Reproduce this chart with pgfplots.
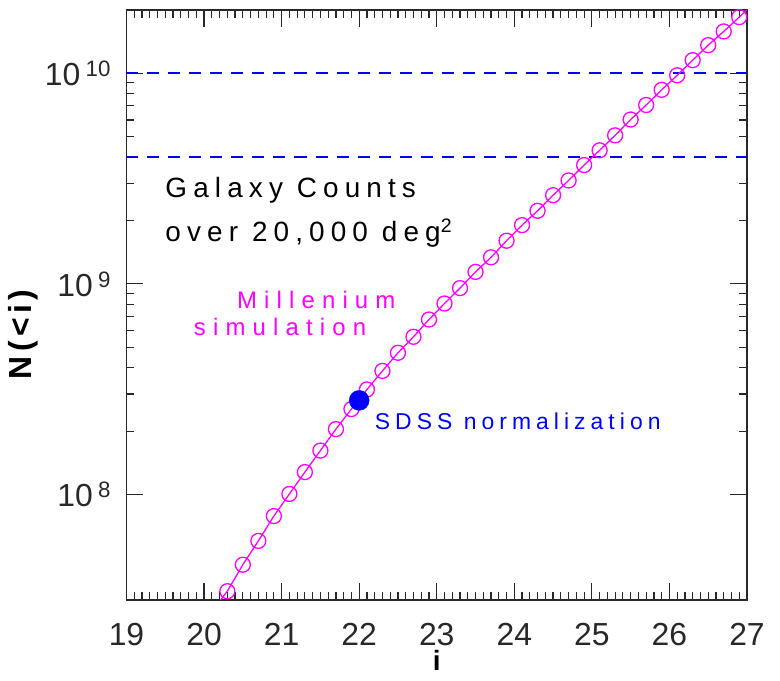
\documentclass[border=0pt]{standalone}
\usepackage{fontspec}
\setmainfont{Liberation Sans}
\newfontfamily\spaced{Liberation Sans}[LetterSpace=22]
\newfontfamily\widespaced{Liberation Sans}[LetterSpace=30]
\newfontfamily\boldspaced{Liberation Sans}[LetterSpace=14]
\usepackage{pgfplots}
\pgfplotsset{compat=1.18}
\definecolor{mag}{RGB}{255,0,255}
\definecolor{dblue}{RGB}{0,0,255}
\definecolor{axgray}{RGB}{40,40,40}
\pgfplotstableread{
i N
20.3 3.48e7
20.5 4.65e7
20.7 6.03e7
20.9 7.91e7
21.1 1.007e8
21.3 1.279e8
21.5 1.618e8
21.7 2.046e8
21.9 2.547e8
22.1 3.155e8
22.3 3.864e8
22.5 4.710e8
22.7 5.610e8
22.9 6.776e8
23.1 8.072e8
23.3 9.550e8
23.5 1.140e9
23.7 1.337e9
23.9 1.603e9
24.1 1.901e9
24.3 2.223e9
24.5 2.636e9
24.7 3.097e9
24.9 3.664e9
25.1 4.305e9
25.3 5.070e9
25.5 6.026e9
25.7 7.063e9
25.9 8.337e9
26.1 9.772e9
26.3 1.153e10
26.5 1.358e10
26.7 1.578e10
26.9 1.845e10
}\counts
\begin{document}
\begin{tikzpicture}
\path[use as bounding box] (-126.5bp,-81bp) rectangle (653.5bp,600bp);
\begin{axis}[
  at={(0,0)}, anchor=south west,
  scale only axis, width=620.5bp, height=590bp,
  ymode=log,
  xmin=19, xmax=27,
  ymin=3.1623e7, ymax=1.9953e10,
  xtick={19,20,...,27},
  minor x tick num=9,
  ytick={1e8,1e9,1e10},
  yticklabels={10\,\textsuperscript{8},10\,\textsuperscript{9},10\,\textsuperscript{10}},
  /pgf/number format/assume math mode=true,
  tick label style={font=\fontsize{32}{36}\selectfont, color=axgray},
  xticklabel style={yshift=-20bp},
  yticklabel style={xshift=-12bp},
  major tick length=17bp,
  minor tick length=8bp,
  every tick/.style={axgray, line width=1.2bp},
  axis line style={axgray, line width=1.5bp},
  xlabel={\boldspaced\bfseries i},
  ylabel={\boldspaced\bfseries N(<i)},
  xlabel style={font=\fontsize{28}{32}\selectfont, color=black, yshift=-1bp, inner sep=0pt},
  ylabel style={font=\fontsize{32}{36}\selectfont, color=black, at={(ticklabel cs:0.45)}},
  clip=true,
]
\addplot[draw=dblue, line width=1.5bp, dash pattern=on 12bp off 9bp] coordinates {(19,1e10) (27,1e10)};
\addplot[draw=dblue, line width=1.5bp, dash pattern=on 12bp off 9bp] coordinates {(19,4e9) (27,4e9)};
\addplot[mag, line width=1.3bp, no marks] coordinates {(20.21,3.15e7) (20.3,3.48e7)};
\addplot[mag, line width=1.3bp, no marks] coordinates {(26.9,1.845e10) (27.0,2.0e10)};
\addplot[mag, line width=1.3bp, mark=o, mark size=7.5bp, mark options={line width=1.3bp}] table[x=i, y=N] {\counts};
\addplot[dblue, only marks, mark=*, mark size=10bp] coordinates {(22.0,2.8e8)};
\node[anchor=west, font=\fontsize{28}{32}\spaced, color=black, inner sep=0pt] at (axis cs:19.5,2.79e9) {Galaxy Counts};
\node[anchor=west, font=\fontsize{28}{32}\spaced, color=black, inner sep=0pt] at (axis cs:19.5,1.747e9) {over 20,000 deg\textsuperscript{2}};
\node[font=\fontsize{24}{27}\widespaced, color=mag, inner sep=0pt] at (axis cs:21.446,8.37e8) {Millenium};
\node[font=\fontsize{24}{27}\widespaced, color=mag, inner sep=0pt] at (axis cs:20.98,6.24e8) {simulation};
\node[anchor=west, font=\fontsize{23}{26}\spaced, color=dblue, inner sep=0pt] at (axis cs:22.2,2.23e8) {SDSS normalization};
\end{axis}
\end{tikzpicture}
\end{document}
